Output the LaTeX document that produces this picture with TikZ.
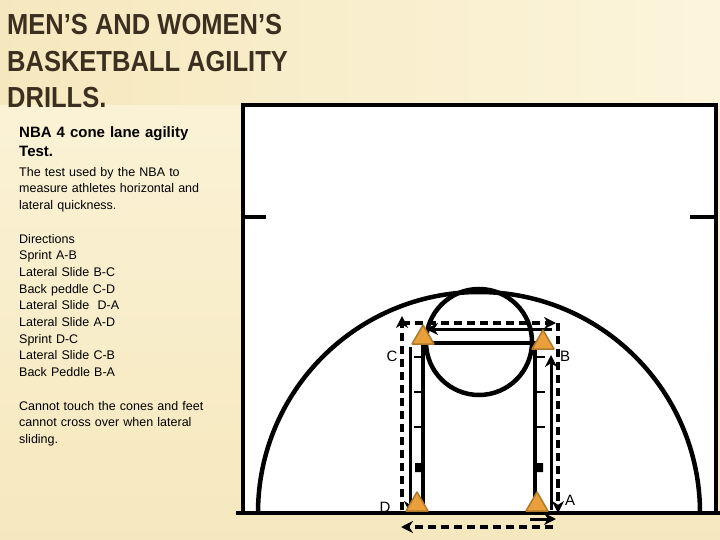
\documentclass[tikz,border=0pt]{standalone}
\usepackage{fontspec}
\setmainfont{Liberation Sans}
\usetikzlibrary{arrows.meta}
\definecolor{beige}{HTML}{F6E8BE}
\definecolor{beigel}{HTML}{FCF5DC}
\definecolor{titlec}{HTML}{3B3020}
\definecolor{coneo}{HTML}{E9A03A}
\definecolor{conel}{HTML}{B0782A}
\begin{document}
\begin{tikzpicture}[x=1pt,y=-1pt,
  court/.style={line width=4.5pt},
  thin/.style={line width=1.6pt},
  dsh/.style={line width=3.6pt,dash pattern=on 8pt off 5pt},
  arr/.style={line width=3pt,-{Stealth[length=12pt,width=12pt]}},
  darr/.style={dsh,-{Stealth[length=12pt,width=12pt]}},
  cone/.style={fill=coneo,draw=conel,line width=1.5pt,line join=round},
  lab/.style={font=\fontsize{15}{15}\selectfont,inner sep=0pt},
  body/.style={font=\fontsize{12.5}{16.7}\selectfont,align=left,anchor=north west,inner sep=0pt,text width=220pt},
  ttl/.style={font=\bfseries\fontsize{29}{35}\selectfont,text=titlec,anchor=north west,inner sep=0pt,xscale=0.88}]
\useasboundingbox (0,0) rectangle (720,540);
\shade[top color=beigel,bottom color=beige] (0,0) rectangle (720,540);
\shade[left color=beige,right color=beigel] (0,0) rectangle (720,105);
% court
\fill[white] (243,105) rectangle (716,513);
\draw[court] (243,513) -- (243,105) -- (716,105) -- (716,513);
\draw[court] (236,513) -- (720,513);
\draw[court] (243,217) -- (266,217) (690,217) -- (716,217);
\draw[court] (258,513) arc[start angle=180,end angle=360,radius=221];
\draw[court] (479,342) circle[radius=53];
\draw[court] (423,513) -- (423,343) -- (535,343) -- (535,513);
\foreach \y in {357,392,427}{\draw[thin] (414,\y) -- (423,\y) (535,\y) -- (545,\y);}
\fill (415,463) rectangle (423,472) (535,463) rectangle (543,472);
% paths
\coordinate (tl) at (402,323); \coordinate (tr) at (558,323);
\coordinate (bl) at (402,510); \coordinate (br) at (558,510);
\draw[darr] (tl) -- (556,323);
\draw[dsh] (tr) -- (br);
\draw[darr] (558,480) -- (558,513);
\draw[darr] (bl) -- (402,316);
\draw[arr] (552,329) -- (426,329);
\draw[arr] (410,347) -- (410,513);
\draw[arr] (551,510) -- (551,355);
\draw[darr] (553,527) -- (401,527);
\draw[arr] (530,519) -- (556,519);
% cones
\foreach \n/\x/\y in {cc/423/344,cb/543/349,cd/417/511,ca/537/511}{
  \draw[cone] (\x-11,\y) -- (\x,\y-19) -- (\x+11,\y) -- cycle;}
\node[lab] (C) at (392,356) {C};
\node[lab] (B) at (565,356) {B};
\node[lab] (D) at (385,507) {D};
\node[lab] (A) at (570,500) {A};
% text
\node[ttl] (t1) at (7,14) {MEN’S AND WOMEN’S};
\node[ttl] (t2) at (7,51) {BASKETBALL AGILITY};
\node[ttl] (t3) at (7,87) {DRILLS.};
\node[body,font=\bfseries\fontsize{15}{19}\selectfont] (h) at (19,126) {NBA 4 cone lane agility\\Test.};
\node[body] (p1) at (19,167) {The test used by the NBA to\\measure athletes horizontal and\\lateral quickness.\\[16.7pt]Directions\\Sprint A-B\\Lateral Slide B-C\\Back peddle C-D\\Lateral Slide\ \ D-A\\Lateral Slide A-D\\Sprint D-C\\Lateral Slide C-B\\Back Peddle B-A\\[16.7pt]Cannot touch the cones and feet\\cannot cross over when lateral\\sliding.};
\end{tikzpicture}
\end{document}
